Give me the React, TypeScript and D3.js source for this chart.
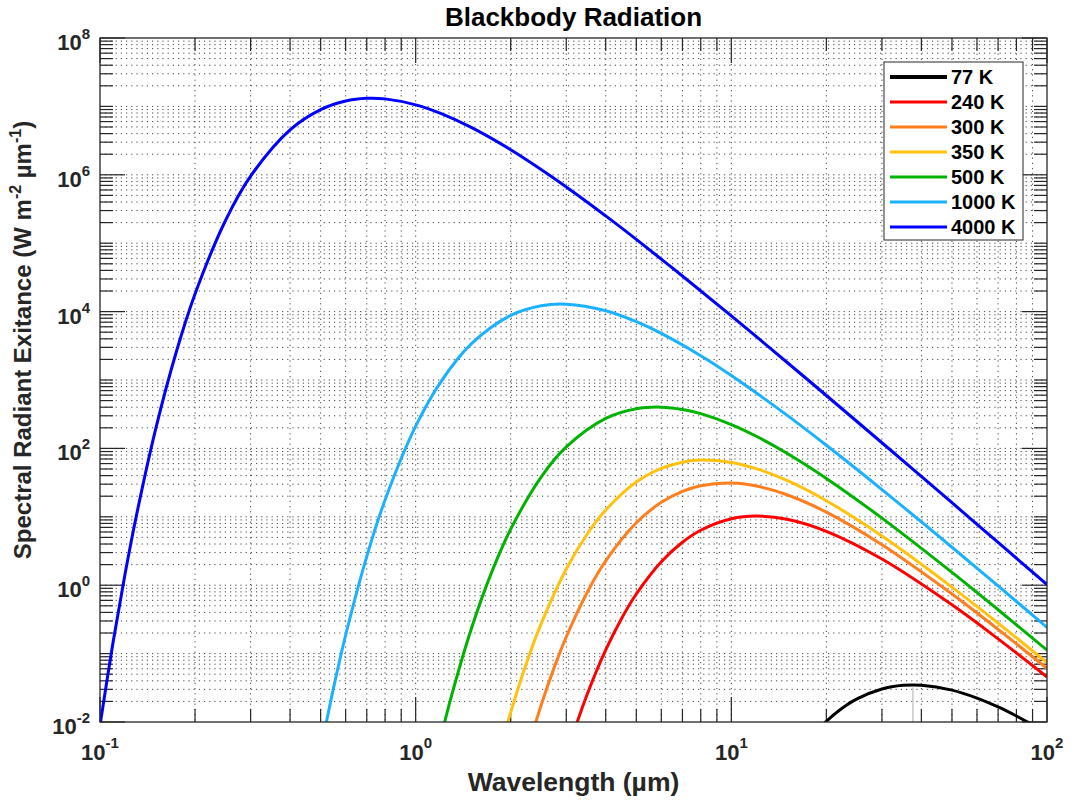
import React from "react";
import * as d3 from "d3";

// ---------- data ----------
const seriesLabels = ["77 K", "240 K", "300 K", "350 K", "500 K", "1000 K", "4000 K"];
const seriesColors = ["#000000", "#ff0000", "#ff7f1f", "#ffc20e", "#00b300", "#1ab2ff", "#0000ff"];

// wavelength (µm) and spectral radiant exitance (W m^-2 µm^-1)
const wl77 = [18, 20, 22, 25, 30, 35, 40, 50, 60, 70, 80, 90, 100];
const m77 = [6.14e-3, 1.024e-2, 1.487e-2, 2.176e-2, 3.044e-2, 3.437e-2, 3.452e-2, 2.922e-2, 2.237e-2, 1.658e-2, 1.223e-2, 9.09e-3, 6.83e-3];

const wl240 = [3.2, 3.5, 4, 4.5, 5, 6, 7, 8, 10, 12, 15, 20, 30, 50, 70, 100];
const m240 = [8.15e-3, 2.594e-2, 0.1132, 0.3322, 0.7434, 2.203, 4.249, 6.359, 9.346, 10.24, 9.226, 6.143, 2.415, 0.5169, 0.1643, 4.556e-2];

const wl300 = [2.25, 2.5, 2.75, 3, 3.5, 4, 5, 6, 7, 8, 10, 12, 15, 20, 30, 50, 70, 100];
const m300 = [3.59e-3, 1.786e-2, 6.346e-2, 0.1756, 0.7972, 2.268, 8.177, 16.26, 23.58, 28.52, 31.17, 28.15, 21.01, 11.69, 3.902, 0.7439, 0.2262, 6.081e-2];

const wl350 = [1.9, 2, 2.25, 2.5, 3, 3.5, 4, 5, 6, 7, 8, 10, 12, 15, 20, 30, 50, 70, 100];
const m350 = [6.07e-3, 1.385e-2, 7.54e-2, 0.2767, 1.723, 5.649, 12.58, 32.19, 50.96, 62.85, 67.41, 62.36, 50.55, 33.99, 17.17, 5.245, 0.9389, 0.2787, 7.36e-2];

const wl500 = [1.2, 1.3, 1.5, 1.75, 2, 2.5, 3, 4, 5, 6, 7, 8, 10, 12, 15, 20, 30, 50, 70, 100];
const m500 = [5.79e-3, 2.455e-2, 0.2296, 1.647, 6.597, 38.41, 105.1, 274.7, 380.4, 401.0, 371.0, 321.8, 223.1, 150.4, 84.83, 36.38, 9.568, 1.539, 0.4379, 0.1122];

const wl1000 = [0.5, 0.55, 0.6, 0.7, 0.8, 1, 1.2, 1.5, 2, 2.5, 3, 4, 5, 6, 8, 10, 15, 20, 30, 50, 70, 100];
const m1000 = [3.81e-3, 3.24e-2, 0.1854, 2.636, 17.66, 211.1, 933.5, 3365, 8790, 1.217e4, 1.283e4, 1.03e4, 7139, 4813, 2266, 1164, 306.2, 111.0, 25.02, 3.591, 0.9757, 0.2417];

const wl4000 = [0.1, 0.11, 0.12, 0.13, 0.15, 0.175, 0.2, 0.25, 0.3, 0.4, 0.5, 0.6, 0.7, 0.8, 1, 1.2, 1.5, 2, 3, 4, 5, 7, 10, 15, 20, 30, 50, 70, 100];
const m4000 = [8.93e-3, 0.146, 1.442, 9.7, 190.1, 2698, 1.807e4, 2.163e5, 9.55e5, 4.545e6, 9.0e6, 1.202e7, 1.314e7, 1.288e7, 1.054e7, 7.9e6, 4.93e6, 2.32e6, 6.65e5, 2.507e5, 1.137e5, 3.315e4, 8648, 1818, 593.6, 120.9, 16.06, 4.22, 1.022];

const seriesWl = [wl77, wl240, wl300, wl350, wl500, wl1000, wl4000];
const seriesM = [m77, m240, m300, m350, m500, m1000, m4000];

// Wien peak marker for 77 K (faint grey line)
const markerWl = [37.6];
const markerTop = [0.032];

const xMajorTicks = [0.1, 1, 10, 100];
const yMajorTicks = [1e-2, 1, 1e2, 1e4, 1e6, 1e8];
const xDomain = [0.1, 100];
const yDomain = [1e-2, 1e8];

const titleText = "Blackbody Radiation";
const xLabelText = "Wavelength (µm)";

// ---------- layout ----------
const W = 1076, H = 803;
const L = 100, R = 1047, T = 38, B = 722;
const FONT = "'Liberation Sans', Arial, Helvetica, sans-serif";
const AX = "#262626";

function decadeTicks(lo: number, hi: number) {
  const out: number[] = [];
  const a = Math.round(Math.log10(lo)), b = Math.round(Math.log10(hi));
  for (let e = a; e < b; e++) for (let k = 1; k <= 9; k++) out.push(k * Math.pow(10, e));
  out.push(Math.pow(10, b));
  return out;
}

function isMajor(v: number, majors: number[]) {
  return majors.some((m) => Math.abs(Math.log10(v) - Math.log10(m)) < 1e-6);
}

export default function App() {
  const x = d3.scaleLog().domain(xDomain).range([L, R]);
  const y = d3.scaleLog().domain(yDomain).range([B, T]);

  const xAll = decadeTicks(xDomain[0], xDomain[1]);
  const yAll = decadeTicks(yDomain[0], yDomain[1]);

  const line = d3
    .line<[number, number]>()
    .x((d) => x(d[0]))
    .y((d) => y(d[1]))
    .curve(d3.curveCatmullRom.alpha(0.5));

  const majLen = 25, minLen = 13;

  const expLabel = (v: number) => String(Math.round(Math.log10(v)));

  return (
    <svg width={W} height={H} style={{ position: "absolute", left: 0, top: 0, background: "#fff" }} fontFamily={FONT}>
      <rect x={0} y={0} width={W} height={H} fill="#fff" />
      <defs>
        <clipPath id="plotClip">
          <rect x={L} y={T} width={R - L} height={B - T} />
        </clipPath>
      </defs>

      {/* grid */}
      <g stroke="#2a2a2a" strokeWidth={1} strokeDasharray="1.2,4" fill="none" opacity={0.85}>
        {xAll.filter((v) => v > xDomain[0] * 1.0001 && v < xDomain[1] * 0.9999).map((v, i) => (
          <line key={"gx" + i} x1={x(v)} x2={x(v)} y1={T} y2={B} />
        ))}
        {yAll.filter((v) => v > yDomain[0] * 1.0001 && v < yDomain[1] * 0.9999).map((v, i) => (
          <line key={"gy" + i} x1={L} x2={R} y1={y(v)} y2={y(v)} />
        ))}
      </g>

      {/* ticks */}
      <g stroke={AX} strokeWidth={1.2}>
        {xAll.map((v, i) => {
          const len = isMajor(v, xMajorTicks) ? majLen : minLen;
          return (
            <g key={"tx" + i}>
              <line x1={x(v)} x2={x(v)} y1={B} y2={B - len} />
              <line x1={x(v)} x2={x(v)} y1={T} y2={T + len} />
            </g>
          );
        })}
        {yAll.map((v, i) => {
          const len = isMajor(v, yMajorTicks) ? majLen : minLen;
          return (
            <g key={"ty" + i}>
              <line x1={L} x2={L + len} y1={y(v)} y2={y(v)} />
              <line x1={R} x2={R - len} y1={y(v)} y2={y(v)} />
            </g>
          );
        })}
      </g>

      {/* marker */}
      {markerWl.map((w, i) => (
        <line key={"mk" + i} x1={x(w)} x2={x(w)} y1={y(yDomain[0])} y2={y(markerTop[i])} stroke="#c8c8c8" strokeWidth={1.5} />
      ))}

      {/* curves */}
      <g clipPath="url(#plotClip)" fill="none" strokeWidth={3} strokeLinejoin="round">
        {seriesWl.map((wl, si) => {
          const pts = wl.map((w, j) => [w, seriesM[si][j]] as [number, number]);
          return <path key={"s" + si} d={line(pts) || ""} stroke={seriesColors[si]} />;
        })}
      </g>

      {/* axes box */}
      <rect x={L} y={T} width={R - L} height={B - T} fill="none" stroke={AX} strokeWidth={1.3} />

      {/* x tick labels */}
      <g fill={AX} fontWeight="bold">
        {xMajorTicks.map((v, i) => (
          <text key={"xl" + i} x={x(v)} y={760} textAnchor="middle" fontSize={22}>
            <tspan>10</tspan>
            <tspan dy={-12} fontSize={15}>{expLabel(v)}</tspan>
          </text>
        ))}
        {yMajorTicks.map((v, i) => (
          <text key={"yl" + i} x={90} y={y(v) + 12} textAnchor="end" fontSize={22}>
            <tspan>10</tspan>
            <tspan dy={-11} fontSize={15}>{expLabel(v)}</tspan>
          </text>
        ))}
      </g>

      {/* title and labels */}
      <text x={(L + R) / 2} y={26} textAnchor="middle" fontSize={26} fontWeight="bold" fill="#000">
        {titleText}
      </text>
      <text x={(L + R) / 2} y={791} textAnchor="middle" fontSize={26.5} fontWeight="bold" fill={AX}>
        {xLabelText}
      </text>
      <text transform={`translate(31,340) rotate(-90)`} textAnchor="middle" fontSize={24} fontWeight="bold" fill={AX}>
        <tspan>Spectral Radiant Exitance (W m</tspan>
        <tspan dy={-10} fontSize={16}>-2</tspan>
        <tspan dy={10}> µm</tspan>
        <tspan dy={-10} fontSize={16}>-1</tspan>
        <tspan dy={10}>)</tspan>
      </text>

      {/* legend */}
      <g>
        <rect x={884} y={62} width={139} height={178} fill="#fff" stroke={AX} strokeWidth={1} />
        {seriesLabels.map((lab, i) => {
          const cy = 77 + i * 25;
          return (
            <g key={"lg" + i}>
              <line x1={890} x2={947} y1={cy} y2={cy} stroke={seriesColors[i]} strokeWidth={i === 0 ? 4 : 3} />
              <text x={951} y={cy + 7} fontSize={20} fontWeight="bold" fill="#000">
                {lab}
              </text>
            </g>
          );
        })}
      </g>
    </svg>
  );
}
